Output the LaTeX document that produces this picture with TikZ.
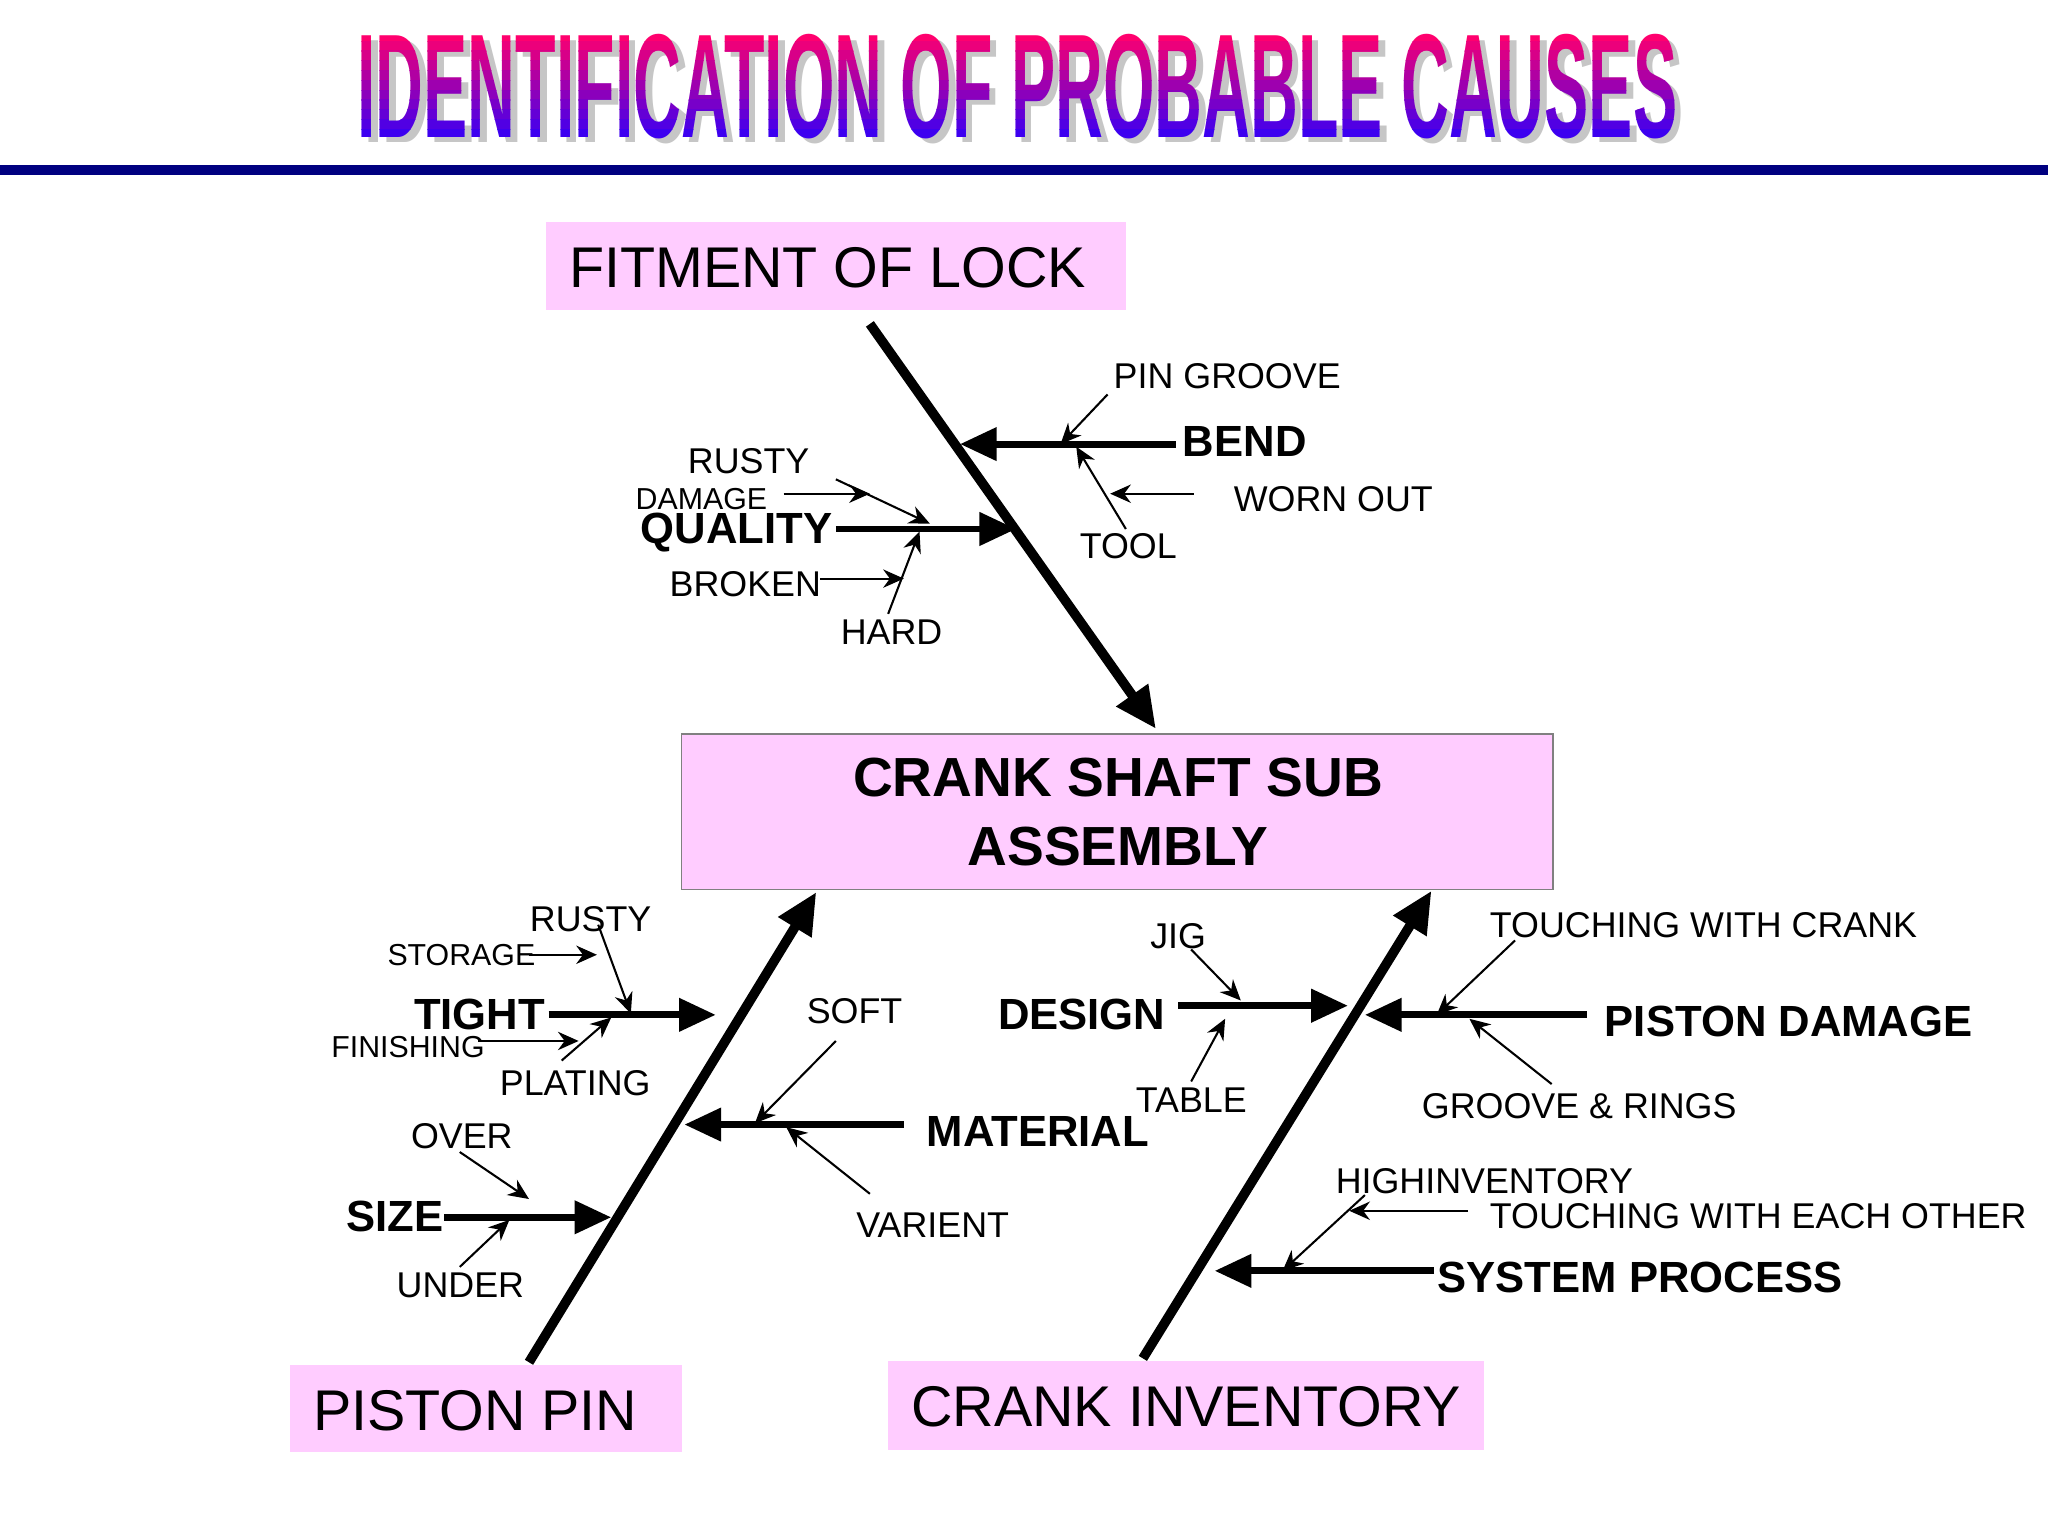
\documentclass[tikz,border=0pt]{standalone}
\usepackage{fontspec}
\setmainfont{Liberation Sans}
\usetikzlibrary{arrows.meta}
\definecolor{pinkbox}{RGB}{255,204,255}
\definecolor{navy}{RGB}{0,0,128}
\definecolor{tpink}{RGB}{255,0,110}
\definecolor{tblue}{RGB}{40,0,255}
\begin{document}
\begin{tikzpicture}[x=0.01cm,y=-0.01cm,
  spine/.style={line width=2.1pt,-{Triangle[length=9pt,width=8pt]}},
  bone/.style={line width=1.5pt,-{Triangle[length=8pt,width=7pt]}},
  twig/.style={line width=0.45pt,-{Stealth[length=4.5pt,width=4pt]}},
  lab/.style={font=\fontsize{7.8pt}{9pt}\selectfont,inner sep=0pt},
  sm/.style={font=\fontsize{6.6pt}{7pt}\selectfont,inner sep=0pt},
  bl/.style={font=\fontsize{9.5pt}{10pt}\selectfont\bfseries,inner sep=0pt},
  big/.style={font=\fontsize{12.5pt}{14pt}\selectfont,inner sep=0pt}]
\useasboundingbox (0,0) rectangle (1568,1176);
\fill[white] (0,0) rectangle (1568,1176);
% title
\node[font=\fontsize{28pt}{30pt}\selectfont\bfseries,text=gray!45,xscale=0.515,yscale=1.15] at (784,70) {IDENTIFICATION OF PROBABLE CAUSES};
\foreach \i in {0,...,11}{
 \pgfmathsetmacro{\ya}{24+\i*7.5}
 \pgfmathsetmacro{\yb}{\ya+7.6}
 \pgfmathsetmacro{\p}{100-\i*9}
 \colorlet{tc}{tpink!\p!tblue}
 \begin{scope}
 \clip (0,\ya) rectangle (1568,\yb);
 \node[font=\fontsize{28pt}{30pt}\selectfont\bfseries,text=tc,xscale=0.515,yscale=1.15] (title) at (779,66) {IDENTIFICATION OF PROBABLE CAUSES};
 \end{scope}}
\fill[navy] (0,126) rectangle (1568,134);
% boxes
\fill[pinkbox] (418,170) rectangle (862,237);
\node[big,anchor=west] (fit) at (435,205) {FITMENT OF LOCK};
\filldraw[fill=pinkbox,draw=gray,line width=0.3pt] (522,562) rectangle (1189,681);
\node[font=\fontsize{12pt}{15pt}\selectfont\bfseries,align=center] (csa) at (856,622) {CRANK SHAFT SUB\\ASSEMBLY};
\fill[pinkbox] (222,1045) rectangle (522,1112);
\node[big,anchor=west] (pp) at (239,1080) {PISTON PIN};
\fill[pinkbox] (680,1042) rectangle (1136,1110);
\node[big,anchor=west] (ci) at (697,1077) {CRANK INVENTORY};
% spines
\coordinate (s1a) at (666,248); \coordinate (s1b) at (885,558);
\coordinate (s2a) at (405,1043); \coordinate (s2b) at (625,683);
\coordinate (s3a) at (875,1040); \coordinate (s3b) at (1096,682);
\draw[spine] (s1a) -- (s1b);
\draw[spine] (s2a) -- (s2b);
\draw[spine] (s3a) -- (s3b);
% FITMENT branch
\node[bl,anchor=west] (bend) at (905,338) {BEND};
\coordinate (bendE) at (735,340);
\draw[bone] (900,340) -- (bendE);
\node[lab,anchor=west] (pg) at (852,288) {PIN GROOVE};
\draw[twig] (848,302) -- (812,340);
\node[lab,anchor=west] (tool) at (826,418) {TOOL};
\draw[twig] (862,405) -- (824,342);
\node[lab,anchor=west] (wo) at (944,382) {WORN OUT};
\draw[twig] (914,378) -- (850,378);
\node[bl,anchor=east] (qual) at (638,408) {QUALITY};
\draw[bone] (640,405) -- (778,405);
\node[lab,anchor=west] (rusty1) at (526,353) {RUSTY};
\draw[twig] (640,367) -- (712,401);
\node[sm,anchor=west] (dmg) at (486,382) {DAMAGE};
\draw[twig] (600,378) -- (666,378);
\node[lab,anchor=west] (brk) at (512,447) {BROKEN};
\draw[twig] (628,443) -- (692,443);
\node[lab,anchor=west] (hard) at (643,484) {HARD};
\draw[twig] (680,470) -- (704,407);
% PISTON PIN branch
\node[bl,anchor=east] (tight) at (418,777) {TIGHT};
\draw[bone] (420,777) -- (548,777);
\node[lab,anchor=west] (rusty2) at (405,704) {RUSTY};
\draw[twig] (458,708) -- (483,776);
\node[sm,anchor=west] (stor) at (296,731) {STORAGE};
\draw[twig] (405,731) -- (457,731);
\node[sm,anchor=west] (fin) at (253,802) {FINISHING};
\draw[twig] (366,797) -- (443,797);
\node[lab,anchor=west] (plat) at (382,829) {PLATING};
\draw[twig] (430,812) -- (468,779);
\node[bl,anchor=east] (size) at (340,931) {SIZE};
\draw[bone] (340,932) -- (468,932);
\node[lab,anchor=west] (over) at (314,870) {OVER};
\draw[twig] (352,882) -- (405,918);
\node[lab,anchor=west] (under) at (303,984) {UNDER};
\draw[twig] (352,970) -- (390,934);
\node[bl,anchor=west] (mat) at (709,866) {MATERIAL};
\draw[bone] (692,861) -- (524,861);
\node[lab,anchor=west] (soft) at (617,774) {SOFT};
\draw[twig] (640,797) -- (578,860);
\node[lab,anchor=west] (var) at (655,938) {VARIENT};
\draw[twig] (666,914) -- (602,863);
% CRANK INVENTORY branch
\node[bl,anchor=east] (des) at (893,777) {DESIGN};
\draw[bone] (902,770) -- (1032,770);
\node[lab,anchor=west] (jig) at (880,717) {JIG};
\draw[twig] (912,727) -- (950,766);
\node[lab,anchor=west] (tab) at (869,842) {TABLE};
\draw[twig] (912,828) -- (938,780);
\node[bl,anchor=west] (pd) at (1228,782) {PISTON DAMAGE};
\draw[bone] (1215,777) -- (1045,777);
\node[lab,anchor=west] (twc) at (1140,708) {TOUCHING WITH CRANK};
\draw[twig] (1160,720) -- (1100,777);
\node[lab,anchor=west] (gr) at (1088,847) {GROOVE \& RINGS};
\draw[twig] (1188,830) -- (1125,780);
\node[bl,anchor=west] (sp) at (1100,978) {SYSTEM PROCESS};
\draw[bone] (1098,973) -- (930,973);
\node[lab,anchor=west] (hi) at (1022,904) {HIGHINVENTORY};
\draw[twig] (1045,915) -- (982,973);
\node[lab,anchor=west] (tweo) at (1140,931) {TOUCHING WITH EACH OTHER};
\draw[twig] (1124,927) -- (1033,927);
\end{tikzpicture}
\end{document}
